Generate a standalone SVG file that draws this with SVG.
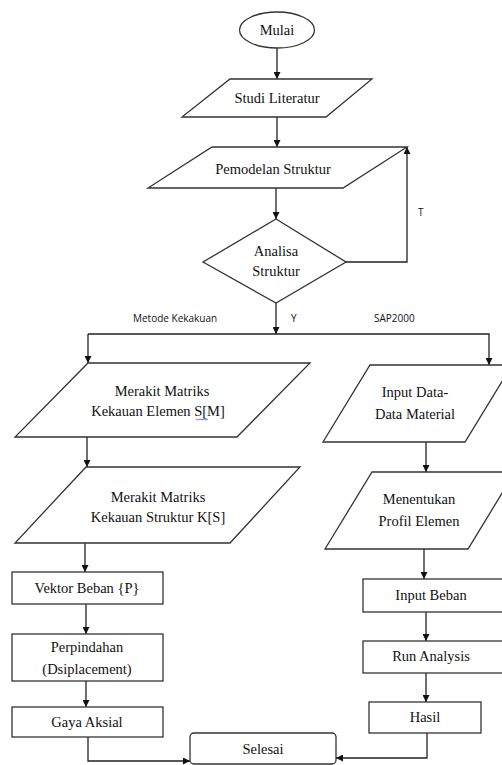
<svg xmlns="http://www.w3.org/2000/svg" width="502" height="765" viewBox="0 0 502 765">
<style>
.s{fill:#fff;stroke:#333;stroke-width:1.3}
.t{font-family:"Liberation Serif","Times New Roman",serif;font-size:14.5px;fill:#111;text-anchor:middle}
.l{font-family:"Open Sans","Liberation Sans",sans-serif;font-size:10px;fill:#111}
.c{fill:none;stroke:#222;stroke-width:1.3}
</style>
<defs>
<marker id="a" viewBox="0 0 10 10" refX="10" refY="5" markerWidth="7" markerHeight="7" markerUnits="userSpaceOnUse" orient="auto">
<path d="M0,0 L10,5 L0,10 z" fill="#111"/>
</marker>
</defs>
<rect width="502" height="765" fill="#fff"/>
<g id="connectors">
<path class="c" d="M277,48 V79" marker-end="url(#a)"/>
<path class="c" d="M277,117 V147" marker-end="url(#a)"/>
<path class="c" d="M276,188 V219" marker-end="url(#a)"/>
<path class="c" d="M346,262 H407 V147" marker-end="url(#a)"/>
<path class="c" d="M276,303 V334" marker-end="url(#a)"/>
<path class="c" d="M88,334 H489 V365" marker-end="url(#a)"/>
<path class="c" d="M88,334 V363" marker-end="url(#a)"/>
<path class="c" d="M87,437 V467" marker-end="url(#a)"/>
<path class="c" d="M85,543 V572" marker-end="url(#a)"/>
<path class="c" d="M86,604 V634" marker-end="url(#a)"/>
<path class="c" d="M86,681 V707" marker-end="url(#a)"/>
<path class="c" d="M88,737 V761 H190" marker-end="url(#a)"/>
<path class="c" d="M426,442 V472" marker-end="url(#a)"/>
<path class="c" d="M424,549 V579" marker-end="url(#a)"/>
<path class="c" d="M426,612 V641" marker-end="url(#a)"/>
<path class="c" d="M426,673 V702" marker-end="url(#a)"/>
<path class="c" d="M427,733 V758 H336" marker-end="url(#a)"/>
<text class="l" x="418" y="216">T</text>
<text class="l" x="133" y="322">Metode Kekakuan</text>
<text class="l" x="291" y="322">Y</text>
<text class="l" x="374" y="322">SAP2000</text>
</g>
<g id="mulai">
<ellipse class="s" cx="277" cy="30" rx="37.5" ry="18"/>
<text class="t" x="277" y="35">Mulai</text>
</g>
<g id="studi">
<polygon class="s" points="230,79 372,79 326,117 182,117"/>
<text class="t" x="277" y="103">Studi Literatur</text>
</g>
<g id="pemodelan">
<polygon class="s" points="212,147 407,147 343,188 148,188"/>
<text class="t" x="273" y="174">Pemodelan Struktur</text>
</g>
<g id="analisa">
<polygon class="s" points="276,219 346,262 276,303 203,262"/>
<text class="t" x="276" y="256">Analisa</text>
<text class="t" x="276" y="276">Struktur</text>
</g>
<g id="elemen">
<polygon class="s" points="88,363 310,363 237,437 15,437"/>
<text class="t" x="162" y="396">Merakit Matriks</text>
<text class="t" x="158" y="416">Kekauan Elemen S[M]</text>
<path d="M196,419 q2,2 4,0 q2,2 4,0 q2,2 4,0" fill="none" stroke="#3355dd" stroke-width="0.8"/>
</g>
<g id="struktur">
<polygon class="s" points="86,467 300,467 230,543 15,543"/>
<text class="t" x="158" y="502">Merakit Matriks</text>
<text class="t" x="158" y="522">Kekauan Struktur K[S]</text>
</g>
<g id="vektor">
<rect class="s" x="12" y="572" width="151" height="32"/>
<text class="t" x="87" y="593">Vektor Beban {P}</text>
</g>
<g id="perpindahan">
<rect class="s" x="12" y="634" width="151" height="47"/>
<text class="t" x="87" y="652">Perpindahan</text>
<text class="t" x="87" y="674">(Dsiplacement)</text>
</g>
<g id="gaya">
<rect class="s" x="12" y="707" width="151" height="30"/>
<text class="t" x="87" y="727">Gaya Aksial</text>
</g>
<g id="inputdata">
<polygon class="s" points="370,365 512,365 465,442 323,442"/>
<text class="t" x="415" y="397">Input Data-</text>
<text class="t" x="415" y="419">Data Material</text>
</g>
<g id="menentukan">
<polygon class="s" points="372,472 515,472 468,549 325,549"/>
<text class="t" x="419" y="504">Menentukan</text>
<text class="t" x="419" y="526">Profil Elemen</text>
</g>
<g id="inputbeban">
<rect class="s" x="363" y="579" width="142" height="33"/>
<text class="t" x="431" y="600">Input Beban</text>
</g>
<g id="run">
<rect class="s" x="363" y="641" width="142" height="32"/>
<text class="t" x="431" y="661">Run Analysis</text>
</g>
<g id="hasil">
<rect class="s" x="369" y="702" width="112" height="31"/>
<text class="t" x="425" y="722">Hasil</text>
</g>
<g id="selesai">
<rect class="s" x="190" y="733" width="146" height="31" rx="4"/>
<text class="t" x="263" y="754">Selesai</text>
</g>
</svg>
